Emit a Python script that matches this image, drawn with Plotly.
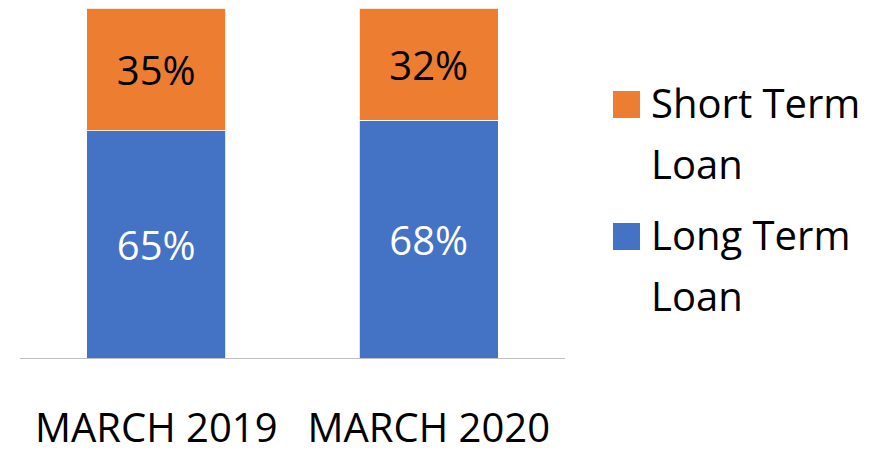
import plotly.graph_objects as go

categories = ["MARCH 2019", "MARCH 2020"]
long_term = [65, 68]
short_term = [35, 32]
series_names = ["Short Term Loan", "Long Term Loan"]
legend_lines = [["Short Term", "Loan"], ["Long Term", "Loan"]]

BLUE = "#4472C4"
ORANGE = "#ED7D31"
FONT = "Open Sans"

W, H = 874, 453
L, R, T, B = 20, 309, 8, 95

fig = go.Figure()
fig.add_trace(go.Bar(
    x=categories, y=long_term, name=series_names[1],
    marker=dict(color=BLUE, line=dict(color="white", width=0.8)),
    text=[f"{v}%" for v in long_term], textposition="inside",
    insidetextanchor="middle", textangle=0,
    insidetextfont=dict(family=FONT, size=40, color="white"),
    showlegend=False,
))
fig.add_trace(go.Bar(
    x=categories, y=short_term, name=series_names[0],
    marker=dict(color=ORANGE, line=dict(color="white", width=0.8)),
    text=[f"{v}%" for v in short_term], textposition="inside",
    insidetextanchor="middle", textangle=0,
    insidetextfont=dict(family=FONT, size=40, color="black"),
    showlegend=False,
))

pw = W - L - R
ph = H - T - B

def px_to_paper(xp, yp):
    return (xp - L) / pw, (H - B - yp) / ph

shapes = []
annotations = []
legend_specs = [(ORANGE, 91, legend_lines[0]), (BLUE, 223, legend_lines[1])]
for color, top, lines in legend_specs:
    x0, y0 = px_to_paper(613, top)
    x1, y1 = px_to_paper(640, top + 27)
    shapes.append(dict(type="rect", xref="paper", yref="paper",
                       x0=x0, x1=x1, y0=y1, y1=y0,
                       fillcolor=color, line=dict(width=0)))
    for i, line in enumerate(lines):
        ax, ay = px_to_paper(649, top + 11 + i * 61)
        annotations.append(dict(text=line, xref="paper", yref="paper",
                                x=ax, y=ay, xanchor="left", yanchor="middle",
                                showarrow=False,
                                font=dict(family=FONT, size=40, color="black")))

fig.update_layout(
    barmode="stack",
    bargap=0.49,
    width=W, height=H,
    margin=dict(l=L, r=R, t=T, b=B, pad=0, autoexpand=False),
    paper_bgcolor="white", plot_bgcolor="white",
    showlegend=False,
    shapes=shapes,
    annotations=annotations,
    font=dict(family=FONT, color="black"),
    xaxis=dict(showline=True, linecolor="#BFBFBF", linewidth=1, automargin=False,
               showgrid=False, ticks="", tickfont=dict(family=FONT, size=40, color="black"),
               ticklabelstandoff=35),
    yaxis=dict(range=[0, 100], visible=False, showgrid=False, zeroline=False,
               automargin=False),
)

fig.write_html("out.html", config={"displayModeBar": False},
               post_script="document.body.style.margin='0';document.body.style.overflow='hidden';")
